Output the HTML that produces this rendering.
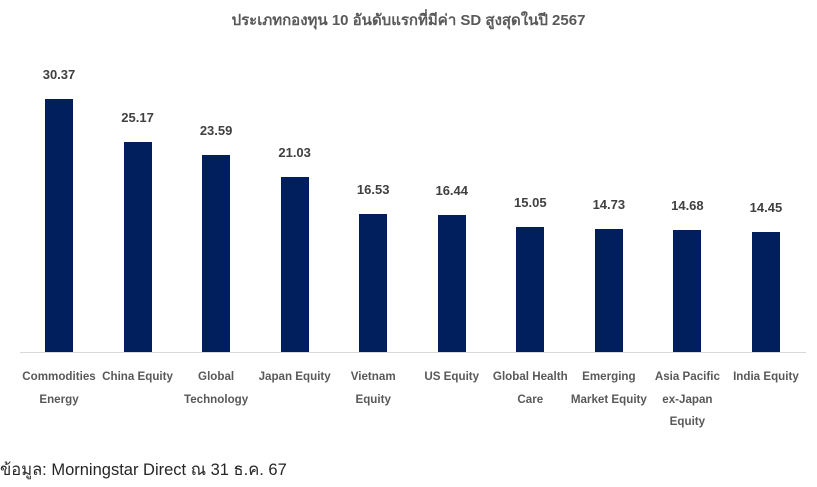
<!DOCTYPE html>
<html><head><meta charset="utf-8"><style>
body{margin:0;width:817px;height:487px;background:#fff;position:relative;overflow:hidden;font-family:"Liberation Sans","DejaVu Sans",sans-serif}
.t{position:absolute;top:8px;left:0;width:817px;text-align:center;font-size:15px;font-weight:bold;color:#595959}
.b{position:absolute;width:28px;background:#001f5c}
.v{position:absolute;width:80px;text-align:center;font-size:13px;font-weight:bold;color:#404040}
.c{position:absolute;top:366px;width:100px;text-align:center;font-size:11.6px;font-weight:bold;color:#595959;line-height:22.5px}
.ax{position:absolute;left:20px;top:352px;width:786px;height:1px;background:#d9d9d9}
.s{position:absolute;left:0;top:457px;font-size:16.5px;color:#262626}
</style></head><body>
<div class="t">ประเภทกองทุน 10 อันดับแรกที่มีค่า SD สูงสุดในปี 2567</div>
<div class="ax"></div>
<div id="ch"></div>
<div class="s">ข้อมูล: Morningstar Direct ณ 31 ธ.ค. 67</div>
<script>
var d=[[30.37,"Commodities<br>Energy"],[25.17,"China Equity"],[23.59,"Global<br>Technology"],[21.03,"Japan Equity"],[16.53,"Vietnam<br>Equity"],[16.44,"US Equity"],[15.05,"Global Health<br>Care"],[14.73,"Emerging<br>Market Equity"],[14.68,"Asia Pacific<br>ex-Japan<br>Equity"],[14.45,"India Equity"]];
var h="";d.forEach(function(e,i){var cx=59+i*78.55,ht=e[0]*8.33,top=352-ht;
h+='<div class="b" style="left:'+(cx-14)+'px;top:'+top+'px;height:'+ht+'px"></div>';
h+='<div class="v" style="left:'+(cx-40)+'px;top:'+(top-32)+'px">'+e[0].toFixed(2)+'</div>';
h+='<div class="c" style="left:'+(cx-50)+'px">'+e[1]+'</div>';});
document.getElementById("ch").innerHTML=h;
</script>
</body></html>
